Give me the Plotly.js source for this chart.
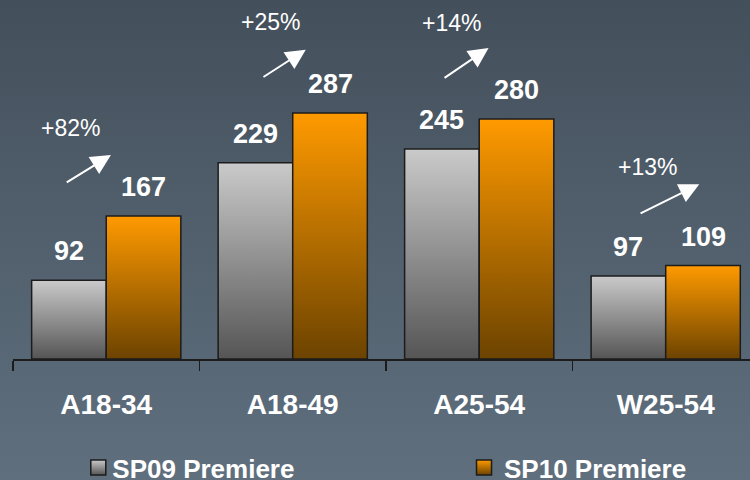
<!DOCTYPE html>
<html>
<head>
<meta charset="utf-8">
<script src="https://cdn.plot.ly/plotly-3.0.1.min.js"></script>
<style>
  html, body { margin: 0; padding: 0; width: 750px; height: 480px; overflow: hidden; }
  body { background: linear-gradient(to bottom, #434f5b 0%, #52606d 50%, #5f6f7e 100%); }
  #chart { width: 750px; height: 480px; }
</style>
</head>
<body>
<div id="chart"></div>
<script>
// ---- data ----
const categories = ['A18-34', 'A18-49', 'A25-54', 'W25-54'];
const sp09 = [92, 229, 245, 97];
const sp10 = [167, 287, 280, 109];
const seriesNames = ['SP09 Premiere', 'SP10 Premiere'];
const changeLabels = ['+82%', '+25%', '+14%', '+13%'];

// ---- arrow/label placement (layout only, in axis units) ----
const changePlacement = [
  { tx: -0.19, ty: 270, ax: -0.22, ay: 205, hx: 0.025, hy: 238 },
  { tx: 0.88, ty: 393, ax: 0.835, ay: 328, hx: 1.07, hy: 361 },
  { tx: 1.85, ty: 392, ax: 1.806, ay: 327, hx: 2.05, hy: 363 },
  { tx: 2.90, ty: 224, ax: 2.857, ay: 169, hx: 3.18, hy: 204 }
];

const FONT = 'Liberation Sans, Arial, Helvetica, sans-serif';
const barLine = { color: '#1c1c1c', width: 1.5 };

const traces = [
  { type: 'bar', name: seriesNames[0], x: categories, y: sp09, legend: 'legend',
    marker: { color: '#8e8e8e', line: barLine }, hoverinfo: 'skip' },
  { type: 'bar', name: seriesNames[1], x: categories, y: sp10, legend: 'legend2',
    marker: { color: '#c07400', line: barLine }, hoverinfo: 'skip' }
];

const annotations = [];
const groupOffset = 0.2;
const valueFont = { family: FONT, size: 27, color: '#ffffff', weight: 'bold' };
categories.forEach((c, i) => {
  annotations.push({ x: i - groupOffset, y: sp09[i], xref: 'x', yref: 'y', text: String(sp09[i]),
    showarrow: false, yanchor: 'bottom', yshift: 12, font: valueFont });
  annotations.push({ x: i + groupOffset, y: sp10[i], xref: 'x', yref: 'y', text: String(sp10[i]),
    showarrow: false, yanchor: 'bottom', yshift: 12, font: valueFont });
  const p = changePlacement[i];
  annotations.push({ x: p.tx, y: p.ty, xref: 'x', yref: 'y', text: changeLabels[i],
    showarrow: false, xanchor: 'center', yanchor: 'middle',
    font: { family: FONT, size: 23, color: '#ffffff' } });
  annotations.push({ x: p.hx, y: p.hy, xref: 'x', yref: 'y', ax: p.ax, ay: p.ay, axref: 'x', ayref: 'y',
    text: '', showarrow: true, arrowhead: 2, arrowsize: 2, arrowwidth: 2, arrowcolor: '#ffffff' });
});

const legendFont = { family: FONT, size: 26, color: '#ffffff', weight: 'bold' };
const legendBase = { orientation: 'h', xref: 'container', yref: 'container', xanchor: 'left',
  yanchor: 'middle', y: 0.026, bgcolor: 'rgba(0,0,0,0)', borderwidth: 0, font: legendFont };

const layout = {
  width: 750, height: 480,
  margin: { l: 13, r: 0, t: 0, b: 121, pad: 0 },
  paper_bgcolor: 'rgba(0,0,0,0)', plot_bgcolor: 'rgba(0,0,0,0)',
  font: { family: FONT, color: '#ffffff' },
  barmode: 'group', bargap: 0.2, bargroupgap: 0,
  showlegend: true,
  legend: Object.assign({}, legendBase, { x: 0.1044 }),
  legend2: Object.assign({}, legendBase, { x: 0.6187 }),
  xaxis: { type: 'category', range: [-0.5, 3.452], showgrid: false, zeroline: false,
    showline: true, linecolor: '#1c1c1c', linewidth: 1.5,
    ticks: 'outside', tickson: 'boundaries', ticklen: 10, tickwidth: 1.5, tickcolor: '#1c1c1c',
    ticklabelstandoff: 20,
    tickfont: { family: FONT, size: 28, color: '#ffffff', weight: 'bold' }, fixedrange: true },
  yaxis: { range: [0, 419], visible: false, fixedrange: true },
  annotations: annotations
};

Plotly.newPlot('chart', traces, layout, { staticPlot: true, responsive: false }).then(gd => {
  const svg = gd.querySelector('svg.main-svg');
  const defs = svg.querySelector('defs');
  const NS = 'http://www.w3.org/2000/svg';
  function grad(id, top, bottom) {
    const g = document.createElementNS(NS, 'linearGradient');
    g.setAttribute('id', id);
    g.setAttribute('x1', '0'); g.setAttribute('y1', '0');
    g.setAttribute('x2', '0'); g.setAttribute('y2', '1');
    [[0, top], [1, bottom]].forEach(([o, c]) => {
      const s = document.createElementNS(NS, 'stop');
      s.setAttribute('offset', o); s.setAttribute('stop-color', c);
      g.appendChild(s);
    });
    defs.appendChild(g);
  }
  grad('gGray', '#cacaca', '#555555');
  grad('gOrange', '#ff9a00', '#6c4300');
  const ids = ['gGray', 'gOrange'];
  gd.querySelectorAll('.barlayer .trace').forEach((t, i) => {
    t.querySelectorAll('path').forEach(p => { p.style.fill = 'url(#' + ids[i] + ')'; });
  });
  const legends = [gd.querySelector('.legend'), gd.querySelector('.legend2')];
  legends.forEach((lg, i) => {
    if (!lg) return;
    lg.querySelectorAll('.legendpoints path').forEach(p => {
      p.setAttribute('d', 'M7.5,7.5H-7.5V-7.5H7.5Z');
      p.style.fill = 'url(#' + ids[i] + ')';
    });
    lg.querySelectorAll('text.legendtext').forEach(t => { t.setAttribute('x', '34'); });
  });
});
</script>
</body>
</html>
